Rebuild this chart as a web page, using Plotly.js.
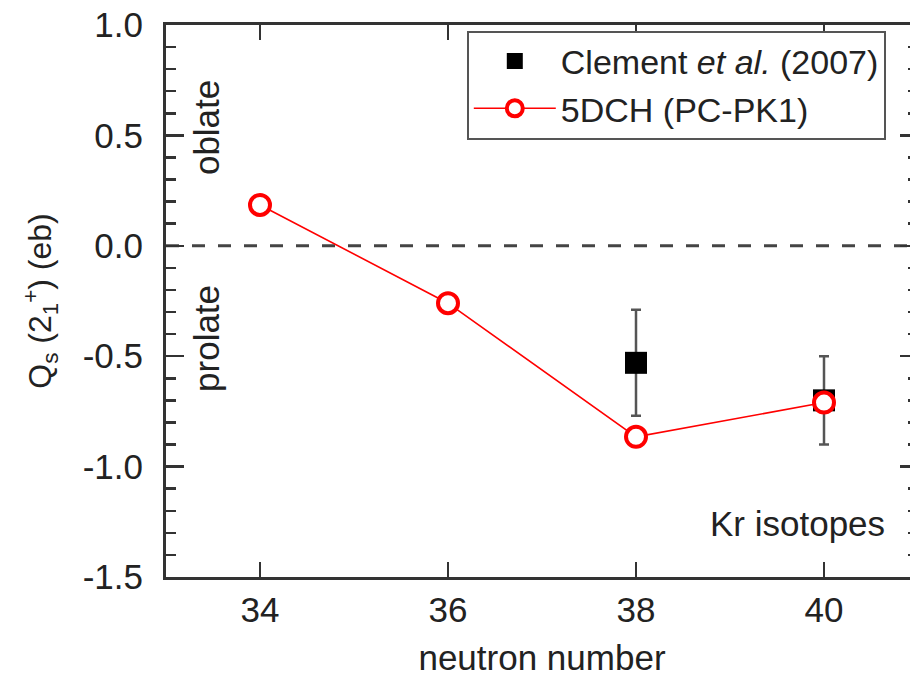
<!DOCTYPE html>
<html>
<head>
<meta charset="utf-8">
<script src="https://cdn.plot.ly/plotly-3.0.1.min.js"></script>
<style>
html, body { margin: 0; padding: 0; overflow: hidden; background: #fff; }
#chart { width: 925px; height: 678px; }
</style>
</head>
<body>
<div id="chart"></div>
<script>
// Data
const neutronExp = [38, 40];
const qsExp = [-0.53, -0.70];
const qsExpErr = [0.24, 0.20];

const neutronTheory = [34, 36, 38, 40];
const qsTheory = [0.185, -0.26, -0.865, -0.71];

const expLabel = 'Clement <i>et al.</i> (2007)';
const theoryLabel = '5DCH (PC-PK1)';

const yTickVals = [-1.5, -1.0, -0.5, 0.0, 0.5, 1.0];
const yTickText = ['-1.5', '-1.0', '-0.5', '0.0', '0.5', '1.0'];
const xTickVals = [34, 36, 38, 40];
const xTickText = ['34', '36', '38', '40'];

const FONT = 'Liberation Sans, Arial, Helvetica, sans-serif';
const FS = 35;
const TXT = '#222222';

const traces = [
  {
    x: neutronExp, y: qsExp, name: expLabel, type: 'scatter', mode: 'markers',
    marker: { symbol: 'square', size: 22, color: '#000000' },
    error_y: { type: 'data', array: qsExpErr, visible: true, color: '#555555', thickness: 2.5, width: 5 }
  },
  {
    x: neutronTheory, y: qsTheory, name: theoryLabel, type: 'scatter', mode: 'lines+markers',
    line: { color: '#ff0000', width: 1.6 },
    marker: { symbol: 'circle', size: 20, color: '#ffffff', line: { color: '#ff0000', width: 4 } }
  }
];

const layout = {
  width: 925, height: 678,
  margin: { l: 166, r: 7, t: 25, b: 101 },
  paper_bgcolor: '#ffffff', plot_bgcolor: '#ffffff',
  font: { family: FONT, size: FS, color: TXT },
  showlegend: true,
  legend: {
    x: 0.40, y: 0.99, xanchor: 'left', yanchor: 'top',
    bgcolor: '#ffffff', bordercolor: '#555555', borderwidth: 2,
    font: { family: FONT, size: 34, color: TXT },
    itemwidth: 82,
    tracegroupgap: 0
  },
  xaxis: {
    range: [33, 41], tickmode: 'array', tickvals: xTickVals, ticktext: xTickText,
    ticks: 'inside', ticklen: 15, tickwidth: 2.5, tickcolor: '#333333',
    showline: true, linewidth: 3, linecolor: '#333333', mirror: 'ticks',
    showgrid: false, zeroline: false,
    tickfont: { family: FONT, size: FS, color: TXT },
    title: { text: 'neutron number', font: { family: FONT, size: FS, color: TXT }, standoff: 18 }
  },
  yaxis: {
    range: [-1.5, 1.0], tickmode: 'array', tickvals: yTickVals, ticktext: yTickText,
    ticks: 'inside', ticklen: 18, tickwidth: 2.5, tickcolor: '#333333',
    minor: { dtick: 0.1, tick0: 0, ticks: 'inside', ticklen: 10, tickwidth: 2.5, tickcolor: '#333333' },
    showline: true, linewidth: 3, linecolor: '#333333', mirror: 'ticks',
    showgrid: false, zeroline: false,
    tickfont: { family: FONT, size: FS, color: TXT },
    ticklabelstandoff: 13,
    title: { text: 'Q<sub>s</sub> (2<sub>1</sub><sup>+</sup>) (eb)', font: { family: FONT, size: 32, color: TXT }, standoff: 22 }
  },
  shapes: [
    { type: 'line', xref: 'paper', yref: 'y', x0: 0, x1: 1, y0: 0, y1: 0,
      line: { color: '#444444', width: 3, dash: '13px,13px' }, layer: 'below' }
  ],
  annotations: [
    { xref: 'x', yref: 'y', x: 33.43, y: 0.535, text: 'oblate', textangle: -90, showarrow: false,
      font: { family: FONT, size: FS, color: TXT } },
    { xref: 'x', yref: 'y', x: 33.43, y: -0.42, text: 'prolate', textangle: -90, showarrow: false,
      font: { family: FONT, size: FS, color: TXT } },
    { xref: 'x', yref: 'y', x: 40.67, y: -1.257, xanchor: 'right', text: 'Kr isotopes', showarrow: false,
      font: { family: FONT, size: FS, color: TXT } }
  ]
};

Plotly.newPlot('chart', traces, layout, { displayModeBar: false, staticPlot: true });
</script>
</body>
</html>
